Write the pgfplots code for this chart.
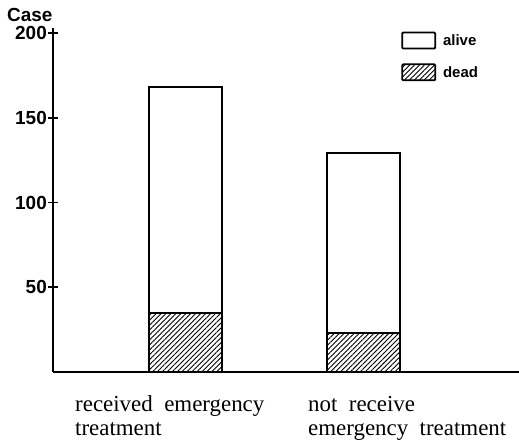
\documentclass[border=0pt]{standalone}
\usepackage{fontspec}
\setmainfont{Liberation Serif}
\setsansfont{Liberation Sans}
\usepackage{pgfplots}
\pgfplotsset{compat=1.18}
\usetikzlibrary{patterns.meta}
\pgfplotsset{boxlegend/.style={legend image code/.code={\draw[##1, line width=1.8bp, rounded corners=1bp] (0bp,-8bp) rectangle (33bp,8bp);}}}
\begin{document}
\begin{tikzpicture}
\path[use as bounding box] (0,0) rectangle (519bp,440bp);
\begin{axis}[
 at={(53bp,68bp)}, anchor=south west,
 scale only axis, width=466bp, height=344bp,
 xmin=53, xmax=519, ymin=0, ymax=203,
 axis lines=left, axis line style={-, line width=2bp},
 xtick=\empty, ytick={50,100,150,200},
 tick align=center, major tick length=10bp, tick style={line width=1.6bp, black},
 yticklabel style={font=\sffamily\bfseries\fontsize{19}{19}\selectfont, inner sep=1bp},
 /pgf/number format/assume math mode=true,
 ybar stacked, bar width=73bp,
 clip=false,
 reverse legend,
 legend style={draw=none, fill=none, at={(0.747,0.99)}, anchor=north west, inner sep=0pt,
   font=\sffamily\bfseries\fontsize{15}{15}\selectfont, row sep=14bp,
   nodes={inner sep=0pt, text depth=0pt},
   /tikz/every odd column/.append style={column sep=7bp}},
 legend cell align=left,
]
\addplot[draw=black, line width=2bp, pattern={Lines[angle=45,distance=3.5bp,line width=0.9bp]}, boxlegend]
  coordinates {(185.5,35) (363,23)};
\addlegendentry{dead}
\addplot[draw=black, fill=white, line width=2bp, boxlegend]
  coordinates {(185.5,133) (363,106)};
\addlegendentry{alive}
\end{axis}
\node[anchor=south west, inner sep=0pt, font=\sffamily\bfseries\fontsize{19}{19}\selectfont] at (7bp,418bp) {Case};
\node[anchor=base west, inner sep=0pt, align=left, font=\fontsize{23}{24}\selectfont] at (75bp,5bp) {received\ \ emergency\\treatment};
\node[anchor=base west, inner sep=0pt, align=left, font=\fontsize{23}{24}\selectfont] at (308bp,5bp) {not\ \ receive\\emergency\ \ treatment};
\end{tikzpicture}
\end{document}
